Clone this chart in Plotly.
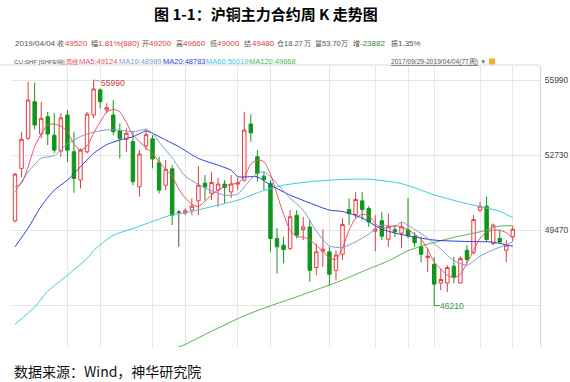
import plotly.graph_objects as go

# ---------------- data (weekly SHFE copper, 2017/09/29 - 2019/04/04, 77 weeks) ----------------
weeks = list(range(77))
opens = [49880, 52160, 53460, 55050, 53650, 54400, 53600, 52910, 54470, 52880,
         51650, 52880, 54470, 55560, 54690, 54470, 53780, 53420, 53320, 51360,
         53130, 53440, 52400, 51430, 52140, 50260, 50230, 50350, 50750, 51520,
         51080, 51220, 51480, 51140, 51480, 51650, 54080, 52660, 51820, 51510,
         49120, 48830, 48690, 50130, 49510, 49620, 47860, 48570, 48540, 47740,
         48440, 50380, 50160, 50750, 50420, 49440, 49890, 49090, 49500, 49350,
         49500, 49220, 48760, 48290, 48000, 47190, 47190, 47920, 47190, 48610,
         48500, 50350, 50520, 48900, 49120, 48610, 49200]
highs = [51960, 53750, 55920, 55870, 55050, 54610, 54560, 54550, 54690, 53750,
         53030, 54610, 55990, 55630, 54980, 55120, 54110, 53890, 53750, 52950,
         53890, 53600, 52660, 52520, 52300, 50350, 50430, 50870, 52260, 51870,
         52000, 51740, 51650, 51870, 51740, 54610, 54510, 52950, 52010, 51650,
         49570, 49190, 50350, 50350, 50060, 49910, 48900, 49510, 48760, 48610,
         49990, 50860, 51140, 51140, 50520, 50130, 50260, 50200, 49700, 49830,
         50870, 49390, 49190, 48690, 48320, 47820, 47960, 48320, 48350, 48830,
         50130, 50710, 50930, 49770, 49480, 49050, 49660]
lows = [49820, 51770, 53390, 53850, 53460, 53170, 52810, 52660, 52440, 51100,
        51290, 52800, 54340, 54760, 54550, 53600, 52590, 52880, 51430, 50930,
        52950, 52160, 51070, 51220, 49700, 48760, 50130, 50130, 50130, 50780,
        50780, 50490, 50650, 50870, 51220, 51580, 53310, 51580, 51220, 48540,
        47600, 48040, 48610, 49120, 49050, 47240, 47530, 47890, 47090, 47310,
        48180, 49700, 49990, 49910, 49620, 48570, 49050, 48760, 49190, 48700,
        49130, 48760, 48090, 47660, 46210, 46880, 46800, 47170, 47180, 48040,
        48440, 50270, 48970, 48830, 48920, 48100, 49000]
closes = [51910, 53420, 55120, 54040, 54330, 53650, 52950, 54350, 52950, 51720,
          52950, 54510, 55600, 55050, 54790, 53750, 53460, 53680, 51580, 52780,
          53620, 52570, 51220, 52120, 50130, 50260, 50320, 50520, 51430, 51350,
          51550, 51480, 51330, 51480, 51530, 53820, 53700, 51940, 51680, 49120,
          48760, 48640, 50060, 49260, 49620, 47740, 48540, 48660, 47570, 48400,
          49730, 50200, 50810, 50380, 49840, 49520, 49220, 49630, 49410, 49630,
          49240, 48940, 48440, 48350, 47140, 47340, 47860, 47430, 48250, 48210,
          49940, 50520, 49080, 49700, 48970, 48830, 49520]
doji_weeks = [25]

ma5 = [51350, 51510, 52230, 53100, 53650, 54040, 54080, 53990, 53750, 53210,
       52950, 53130, 53690, 54170, 54600, 54720, 54610, 54150, 53600, 53320,
       53040, 52820, 52430, 52130, 51820, 51260, 50870, 50610, 50500, 50740,
       51000, 51220, 51370, 51480, 51510, 51780, 52340, 52520, 52450, 51910,
       51040, 50170, 49480, 49200, 49180, 49070, 48810, 48570, 48270, 48220,
       48700, 49480, 50000, 50170, 50110, 49780, 49570, 49610, 49680, 49610,
       49500, 49310, 49090, 48660, 48090, 47790, 47530, 47420, 47570, 48050,
       48610, 49130, 49390, 49480, 49480, 49370, 49124]
ma10_weeks = [0, 2, 4, 6, 8, 10, 12, 14, 16, 18, 20, 21, 22, 24, 26, 28, 30, 32, 34, 35,
              36, 37, 38, 39, 40, 42, 44, 46, 48, 50, 52, 54, 56, 58, 59, 61, 63, 65, 67,
              69, 71, 73, 75, 76]
ma10 = [51130, 52000, 52600, 52710, 53230, 53540, 53730, 53830, 53820, 53750, 53840,
        53690, 53300, 52610, 51820, 51460, 51190, 51000, 51040, 51350, 51690, 51950,
        52010, 51800, 51500, 50870, 50350, 49440, 48790, 48740, 48970, 49310, 49700,
        49630, 49830, 49520, 49130, 48660, 48160, 47960, 48350, 48630, 48850, 48989]
ma20_weeks = [0, 2, 4, 6, 8, 10, 12, 14, 16, 18, 20, 21, 23, 25, 28, 31, 33, 34, 37, 39,
              42, 45, 48, 50, 53, 56, 59, 64, 69, 73, 76]
ma20 = [48760, 49570, 50520, 51220, 51650, 52230, 52810, 53190, 53390, 53530, 53780,
        53680, 53390, 53100, 52590, 52300, 52080, 51800, 51790, 51430, 51000, 50660,
        50350, 50290, 50010, 49520, 49290, 49050, 48990, 48960, 48783]
ma60_weeks = [0, 3, 5, 8, 11, 12, 15, 18, 21, 24, 26, 30, 34, 38, 41, 45, 50, 54, 59,
              64, 68, 71, 74, 76]
ma60 = [45400, 46150, 46830, 47530, 48250, 48600, 49260, 49550, 49860, 50150, 50230,
        50500, 50780, 51200, 51430, 51580, 51680, 51690, 51500, 51010, 50700, 50500,
        50300, 50019]
ma120_weeks = [24, 26, 30, 35, 39, 43, 47, 49, 52, 54, 57, 60, 63, 67, 71, 74, 76]
ma120 = [44300, 44530, 45100, 45770, 46200, 46590, 47000, 47200, 47560, 47800, 48150,
         48590, 48870, 49170, 49410, 49660, 49668]

y_ticks = [55990, 52730, 49470, 46210]
y_ticktext = ["55990", "52730", "49470", ""]
grid_weeks = [8, 13, 21, 26, 34, 39, 48, 55, 60, 64, 71, 76]

# ---------------- style ----------------
RED = "#E63B3F"
GREEN = "#12961A"
GRAY_TXT = "#555555"
C_MA5 = "#E8506A"
C_MA10 = "#7F9CC8"
C_MA20 = "#2A3FD8"
C_MA60 = "#3CC9DE"
C_MA120 = "#52B552"
LAT = "Liberation Sans, Arial, sans-serif"
CJK = "Noto Sans CJK SC, sans-serif"

L, R, T, B = 12, 540, 66, 347
W, H = R - L, B - T


def px(x):
    return (x - L) / W


def py(y):
    return (B - y) / H


fig = go.Figure()

normal = [i for i in weeks if i not in doji_weeks]
fig.add_trace(go.Candlestick(
    x=[weeks[i] for i in normal],
    open=[opens[i] for i in normal], high=[highs[i] for i in normal],
    low=[lows[i] for i in normal], close=[closes[i] for i in normal],
    increasing=dict(line=dict(color=RED, width=1), fillcolor="white"),
    decreasing=dict(line=dict(color=GREEN, width=1), fillcolor=GREEN),
    whiskerwidth=0, showlegend=False))
fig.add_trace(go.Candlestick(
    x=[weeks[i] for i in doji_weeks],
    open=[opens[i] for i in doji_weeks], high=[highs[i] for i in doji_weeks],
    low=[lows[i] for i in doji_weeks], close=[closes[i] for i in doji_weeks],
    increasing=dict(line=dict(color="#555555", width=1), fillcolor="#555555"),
    decreasing=dict(line=dict(color="#555555", width=1), fillcolor="#555555"),
    whiskerwidth=0, showlegend=False))

for xs, ys, col in [(ma120_weeks, ma120, C_MA120), (ma60_weeks, ma60, C_MA60),
                    (ma20_weeks, ma20, C_MA20), (ma10_weeks, ma10, C_MA10),
                    (weeks, ma5, C_MA5)]:
    fig.add_trace(go.Scatter(x=xs, y=ys, mode="lines", showlegend=False,
                             line=dict(color=col, width=1, shape="spline", smoothing=0.6)))

ann = []
# title and source
ann.append(dict(text="<b>图 1-1：沪铜主力合约周 K 走势图</b>", x=px(266), y=py(13),
                xref="paper", yref="paper", showarrow=False, xanchor="center", yanchor="middle",
                font=dict(family=CJK, size=15, color="#000000")))
ann.append(dict(text="数据来源：Wind，神华研究院", x=px(12), y=py(371),
                xref="paper", yref="paper", showarrow=False, xanchor="left", yanchor="middle",
                font=dict(family=CJK, size=14, color="#111111")))

# header row 1
last = len(closes) - 1
row1 = [("2019/04/04", 14, GRAY_TXT, LAT, 8),
        ("收", 56.3, GRAY_TXT, CJK, 7), (str(closes[last]), 63.5, RED, LAT, 8),
        ("幅", 90.3, GRAY_TXT, CJK, 7), ("1.81%(880)", 97.3, RED, LAT, 8),
        ("开", 141.3, GRAY_TXT, CJK, 7), (str(opens[last]), 148.3, RED, LAT, 8),
        ("高", 174.6, GRAY_TXT, CJK, 7), (str(highs[last]), 182, RED, LAT, 8),
        ("低", 208.6, GRAY_TXT, CJK, 7), (str(lows[last]), 215.8, RED, LAT, 8),
        ("结", 243, GRAY_TXT, CJK, 7), ("49480", 250.5, RED, LAT, 8),
        ("仓", 276.3, GRAY_TXT, CJK, 7), ("18.27", 283.2, GRAY_TXT, LAT, 7.5),
        ("万", 303, GRAY_TXT, CJK, 7),
        ("量", 313.6, GRAY_TXT, CJK, 7), ("53.70", 320.5, GRAY_TXT, LAT, 7.5),
        ("万", 340.3, GRAY_TXT, CJK, 7),
        ("增", 352, GRAY_TXT, CJK, 7), ("-23882", 359.3, "#2E8B2E", LAT, 8),
        ("振", 389.6, GRAY_TXT, CJK, 7), ("1.35%", 396.8, GRAY_TXT, LAT, 8)]
for txt, x0, col, fam, fs in row1:
    ann.append(dict(text=txt, x=px(x0), y=py(43.5), xref="paper", yref="paper",
                    showarrow=False, xanchor="left", yanchor="middle",
                    borderpad=0, font=dict(family=fam, size=fs, color=col)))

row2 = [("CU.SHF [SHFE铜]", 12.7, GRAY_TXT, LAT, 6.2),
        ("周线", 65, RED, CJK, 6),
        ("MA5:%d" % ma5[-1], 77.5, C_MA5, LAT, 7.5),
        ("MA10:%d" % ma10[-1], 118.3, C_MA10, LAT, 7.5),
        ("MA20:%d" % ma20[-1], 161.7, C_MA20, LAT, 7.5),
        ("MA60:%d" % ma60[-1], 205, C_MA60, LAT, 7.5),
        ("MA120:%d" % ma120[-1], 248.3, C_MA120, LAT, 7.5),
        ("<u>2017/09/29-2019/04/04(77周)</u>", 390, GRAY_TXT, LAT, 6.6),
        ("▼", 479, "#777777", LAT, 6.5)]
for txt, x0, col, fam, fs in row2:
    ann.append(dict(text=txt, x=px(x0), y=py(61.5), xref="paper", yref="paper",
                    showarrow=False, xanchor="left", yanchor="middle",
                    borderpad=0, font=dict(family=fam, size=fs, color=col)))

# extreme value markers
imax = highs.index(max(highs))
imin = lows.index(min(lows))
ann.append(dict(text=str(max(highs)), x=weeks[imax], y=max(highs), xref="x", yref="y",
                showarrow=True, arrowhead=0, arrowwidth=1, arrowcolor="#8FA8C0",
                ax=19, ay=3, xanchor="center", yanchor="middle", borderpad=0,
                font=dict(family=LAT, size=8.5, color="#C83C3C")))
ann.append(dict(text=str(min(lows)), x=weeks[imin], y=min(lows), xref="x", yref="y",
                showarrow=True, arrowhead=0, arrowwidth=1, arrowcolor="#3A9A3A",
                ax=18, ay=0, xanchor="center", yanchor="middle", borderpad=0,
                font=dict(family=LAT, size=8.5, color="#3A9A3A")))

shapes = [
    dict(type="line", xref="paper", yref="paper", x0=px(0), x1=px(540), y0=py(65), y1=py(65),
         line=dict(color="#DADADA", width=1)),
    dict(type="rect", xref="paper", yref="paper", x0=px(489), x1=px(495), y0=py(64.5), y1=py(58.5),
         line=dict(width=0), fillcolor="#EDB32A"),
]

fig.update_layout(
    width=570, height=382, margin=dict(l=L, r=570 - R, t=T, b=382 - B),
    paper_bgcolor="white", plot_bgcolor="white",
    annotations=ann, shapes=shapes, showlegend=False, boxgap=0.25,
    xaxis=dict(range=[-0.46, 80.15], tickvals=grid_weeks, showticklabels=False,
               showgrid=True, gridcolor="#E6E6E6", gridwidth=1, zeroline=False,
               ticks="", showline=False, rangeslider=dict(visible=False), fixedrange=True,
               automargin=False),
    yaxis=dict(side="right", range=[44416, 56597], tickvals=y_ticks, ticktext=y_ticktext,
               showgrid=True, gridcolor="#E6E6E6", gridwidth=1, zeroline=False,
               showline=True, linecolor="#D8D8D8", linewidth=1, ticks="",
               ticklabelstandoff=2, automargin=False,
               tickfont=dict(family=LAT, size=8.5, color="#444444"), fixedrange=True),
)

fig.write_html("out.html")
